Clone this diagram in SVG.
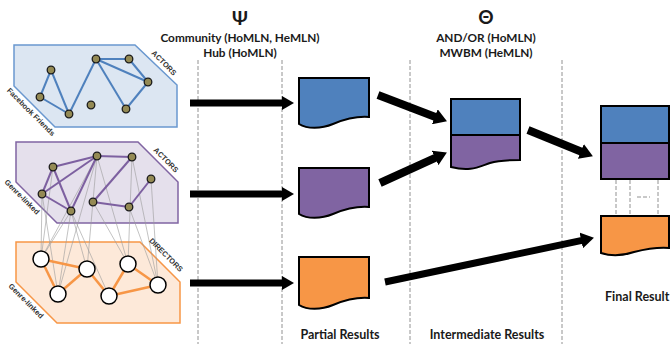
<svg xmlns="http://www.w3.org/2000/svg" width="672" height="344" viewBox="0 0 672 344">
<style>
.t{font-family:Lato,"Liberation Sans",sans-serif;font-weight:bold;fill:#1a1a1a;}
.lbl{font-family:"Liberation Sans",sans-serif;font-weight:bold;fill:#333;font-size:7.5px;}
.dash{stroke:#777;stroke-width:0.8;stroke-dasharray:4 2;fill:none;}
.doc{stroke:#000;stroke-width:2;}
.arr{stroke:#000;fill:none;}
.gl{stroke:#9a9a9a;stroke-width:0.6;}
.on{fill:#948A54;stroke:#1a1a1a;stroke-width:1.3;}
.wn{fill:#fff;stroke:#000;stroke-width:1.5;}
</style>
<defs>
<marker id="ah" viewBox="0 0 12 14" markerWidth="12" markerHeight="14" refX="2" refY="7" orient="auto" markerUnits="userSpaceOnUse">
<path d="M0,0 L12,7 L0,14 Z" fill="#000"/>
</marker>
<marker id="ah2" viewBox="0 0 13 16" markerWidth="13" markerHeight="16" refX="2" refY="8" orient="auto" markerUnits="userSpaceOnUse">
<path d="M0,0 L13,8 L0,16 Z" fill="#000"/>
</marker>
</defs>
<rect width="672" height="344" fill="#fff"/>

<!-- dashed stage separators -->
<g id="separators">
<line class="dash" x1="198" y1="60" x2="198" y2="344"/>
<line class="dash" x1="282" y1="60" x2="282" y2="344"/>
<line class="dash" x1="410" y1="60" x2="410" y2="344"/>
<line class="dash" x1="562" y1="60" x2="562" y2="344"/>
</g>

<!-- headings -->
<g id="headings">
<text class="t" x="240" y="25" font-size="19" text-anchor="middle">Ψ</text>
<text class="t" x="240" y="42" font-size="11.8" text-anchor="middle">Community (HoMLN, HeMLN)</text>
<text class="t" x="240" y="57" font-size="11.8" text-anchor="middle">Hub (HoMLN)</text>
<text class="t" x="486" y="24" font-size="19" text-anchor="middle">Θ</text>
<text class="t" x="486" y="42" font-size="11.8" text-anchor="middle">AND/OR (HoMLN)</text>
<text class="t" x="486" y="57" font-size="11.8" text-anchor="middle">MWBM (HeMLN)</text>
<text class="t" x="340" y="339" font-size="12.5" text-anchor="middle">Partial Results</text>
<text class="t" x="487" y="339" font-size="12.5" text-anchor="middle">Intermediate Results</text>
<text class="t" x="605" y="301" font-size="12.5">Final Result</text>
</g>

<!-- Blue layer: Facebook friends -->
<g id="layer-actors-fb">
<polygon points="14,45 135,45 177,85 177,127 55,127 14,86" fill="#DCE6F2" stroke="#6A98CF" stroke-width="1.5"/>
<g stroke="#4F81BD" stroke-width="2">
<line x1="51" y1="70" x2="40" y2="97"/>
<line x1="40" y1="97" x2="69" y2="114"/>
<line x1="51" y1="70" x2="69" y2="114"/>
<line x1="69" y1="114" x2="96" y2="59"/>
<line x1="96" y1="59" x2="129" y2="59"/>
<line x1="96" y1="59" x2="148" y2="82"/>
<line x1="129" y1="59" x2="148" y2="82"/>
<line x1="96" y1="59" x2="126" y2="109"/>
<line x1="126" y1="109" x2="148" y2="82"/>
</g>
<circle class="on" cx="51" cy="70" r="3.8"/>
<circle class="on" cx="40" cy="97" r="3.8"/>
<circle class="on" cx="69" cy="114" r="3.8"/>
<circle class="on" cx="91" cy="105" r="3.8"/>
<circle class="on" cx="96" cy="59" r="3.8"/>
<circle class="on" cx="129" cy="59" r="3.8"/>
<circle class="on" cx="148" cy="82" r="3.8"/>
<circle class="on" cx="126" cy="109" r="3.8"/>
<text class="lbl" transform="translate(164,63) rotate(45)" text-anchor="middle" dy="2.5">ACTORS</text>
<text class="lbl" transform="translate(31,112) rotate(45)" text-anchor="middle" dy="2.5" font-size="6.5">Facebook Friends</text>
</g>

<!-- Purple layer -->
<g id="layer-actors-genre">
<polygon points="16,142 138,142 178,182 178,223 57,223 16,182" fill="#E5E0EC" stroke="#8064A2" stroke-width="1.5"/>
</g>

<!-- Orange layer -->
<g id="layer-directors">
<polygon points="16,242 140,242 180,282 180,323 57,323 16,282" fill="#FDE9D9" stroke="#F79646" stroke-width="1.5"/>
</g>

<!-- inter-layer links -->
<g id="interlayer-links">
<line class="gl" x1="42" y1="194" x2="41" y2="259"/>
<line class="gl" x1="42" y1="194" x2="58" y2="294"/>
<line class="gl" x1="53" y1="167" x2="41" y2="259"/>
<line class="gl" x1="71" y1="211" x2="41" y2="259"/>
<line class="gl" x1="71" y1="211" x2="58" y2="294"/>
<line class="gl" x1="71" y1="211" x2="87" y2="269"/>
<line class="gl" x1="71" y1="211" x2="109" y2="296"/>
<line class="gl" x1="97" y1="156" x2="41" y2="259"/>
<line class="gl" x1="97" y1="156" x2="58" y2="294"/>
<line class="gl" x1="97" y1="156" x2="87" y2="269"/>
<line class="gl" x1="97" y1="156" x2="128" y2="264"/>
<line class="gl" x1="93" y1="202" x2="128" y2="264"/>
<line class="gl" x1="132" y1="157" x2="128" y2="264"/>
<line class="gl" x1="132" y1="157" x2="158" y2="285"/>
<line class="gl" x1="129" y1="207" x2="158" y2="285"/>
<line class="gl" x1="151" y1="179" x2="158" y2="285"/>
</g>

<g id="purple-network">
<g stroke="#7D60A0" stroke-width="2">
<line x1="53" y1="167" x2="42" y2="194"/>
<line x1="53" y1="167" x2="71" y2="211"/>
<line x1="42" y1="194" x2="97" y2="156"/>
<line x1="42" y1="194" x2="71" y2="211"/>
<line x1="53" y1="167" x2="97" y2="156"/>
<line x1="71" y1="211" x2="97" y2="156"/>
<line x1="97" y1="156" x2="132" y2="157"/>
<line x1="132" y1="157" x2="93" y2="202"/>
<line x1="93" y1="202" x2="129" y2="207"/>
<line x1="129" y1="207" x2="151" y2="179"/>
</g>
<circle class="on" cx="53" cy="167" r="3.8"/>
<circle class="on" cx="42" cy="194" r="3.8"/>
<circle class="on" cx="71" cy="211" r="3.8"/>
<circle class="on" cx="97" cy="156" r="3.8"/>
<circle class="on" cx="132" cy="157" r="3.8"/>
<circle class="on" cx="151" cy="179" r="3.8"/>
<circle class="on" cx="93" cy="202" r="3.8"/>
<circle class="on" cx="129" cy="207" r="3.8"/>
<text class="lbl" transform="translate(166,160) rotate(45)" text-anchor="middle" dy="2.5">ACTORS</text>
<text class="lbl" transform="translate(22,197) rotate(45)" text-anchor="middle" dy="2.5" font-size="6.5">Genre-linked</text>
</g>

<g id="orange-network">
<g stroke="#F79646" stroke-width="2.5">
<line x1="41" y1="259" x2="87" y2="269"/>
<line x1="41" y1="259" x2="58" y2="294"/>
<line x1="58" y1="294" x2="87" y2="269"/>
<line x1="87" y1="269" x2="109" y2="296"/>
<line x1="109" y1="296" x2="128" y2="264"/>
<line x1="109" y1="296" x2="158" y2="285"/>
<line x1="128" y1="264" x2="158" y2="285"/>
</g>
<circle class="wn" cx="41" cy="259" r="8"/>
<circle class="wn" cx="87" cy="269" r="8"/>
<circle class="wn" cx="58" cy="294" r="8"/>
<circle class="wn" cx="109" cy="296" r="8"/>
<circle class="wn" cx="128" cy="264" r="8"/>
<circle class="wn" cx="158" cy="285" r="8"/>
<text class="lbl" transform="translate(166,255) rotate(45)" text-anchor="middle" dy="2.5">DIRECTORS</text>
<text class="lbl" transform="translate(26,301) rotate(45)" text-anchor="middle" dy="2.5" font-size="6.5">Genre-linked</text>
</g>

<!-- Partial results -->
<g id="partial-blue">
<path class="doc" fill="#4F81BD" d="M299,78 H369 V117 C356,116 345,119 333,124 C321,129 307,129 299,124 Z"/>
</g>
<g id="partial-purple">
<path class="doc" fill="#8064A2" d="M299,168 H369 V207 C356,206 345,209 333,214 C321,219 307,219 299,214 Z"/>
</g>
<g id="partial-orange">
<path class="doc" fill="#F79646" d="M299,257 H369 V298 C356,297 345,300 333,305 C321,310 307,310 299,305 Z"/>
</g>

<!-- Intermediate -->
<g id="intermediate">
<path class="doc" fill="#8064A2" d="M451,135 H520 V160 C508,160 500,160 490,163 C478,167 470,172 451,167 Z"/>
<rect class="doc" x="451" y="99" width="69" height="36" fill="#4F81BD"/>
</g>

<!-- Final -->
<g id="final-top">
<rect class="doc" x="601" y="106" width="68" height="37" fill="#4F81BD"/>
<rect class="doc" x="601" y="143" width="68" height="36" fill="#8064A2"/>
</g>
<g id="final-gap">
<line class="dash" x1="616" y1="180" x2="616" y2="216" stroke-dasharray="2 1.5"/>
<line class="dash" x1="630" y1="180" x2="630" y2="216" stroke-dasharray="2 1.5"/>
<line class="dash" x1="658" y1="180" x2="658" y2="216" stroke-dasharray="2 1.5"/>
<line class="dash" x1="637" y1="197" x2="650" y2="197" stroke-dasharray="3 1.5"/>
</g>
<g id="final-orange">
<path class="doc" fill="#F79646" d="M601,216 H669 V248 C656,247 646,249 634,252 C622,256 610,256 601,253 Z"/>
</g>

<!-- connectors -->
<g id="connectors">
<line class="arr" x1="190" y1="103" x2="284" y2="103" stroke-width="7" marker-end="url(#ah)"/>
<line class="arr" x1="190" y1="194" x2="284" y2="194" stroke-width="7" marker-end="url(#ah)"/>
<line class="arr" x1="190" y1="283" x2="284" y2="283" stroke-width="7" marker-end="url(#ah)"/>
<line class="arr" x1="378" y1="95" x2="436.7" y2="117.4" stroke-width="8" marker-end="url(#ah2)"/>
<line class="arr" x1="380" y1="183" x2="436.9" y2="157.1" stroke-width="8" marker-end="url(#ah2)"/>
<line class="arr" x1="528" y1="130" x2="582.7" y2="152.2" stroke-width="8" marker-end="url(#ah2)"/>
<line class="arr" x1="385" y1="282" x2="583.2" y2="240.1" stroke-width="7" marker-end="url(#ah2)"/>
</g>
</svg>
